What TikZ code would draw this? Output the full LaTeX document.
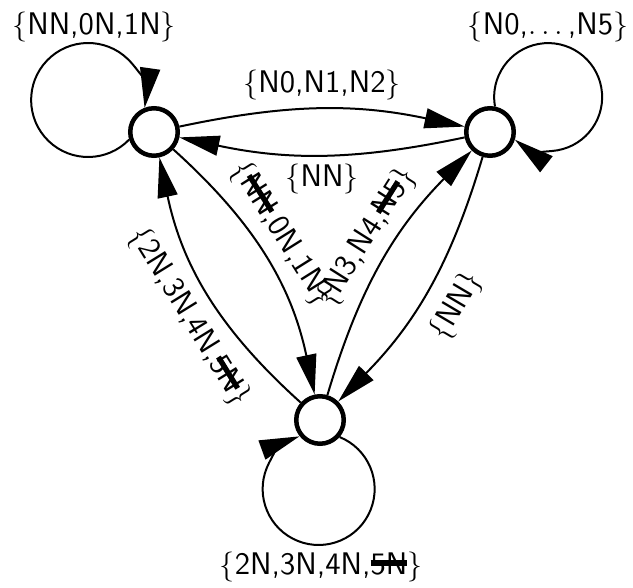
\documentclass[tikz,border=0pt]{standalone}
\usepackage{amsmath}
\usepackage{tikz}
\usetikzlibrary{arrows.meta}
\newsavebox\strikebox
\newcommand{\struck}[1]{\sbox\strikebox{#1}\rlap{\rule[0.28em]{\wd\strikebox}{0.17em}}\usebox\strikebox}
\tikzset{statenode/.style={draw,circle,line width=1.8pt,minimum size=19pt,inner sep=0},
    trans/.style={->,line width=0.8pt},
    translabel/.style={font=\sffamily\fontsize{12.5}{14}\selectfont},
    sidelabel/.style={auto,sloped,inner sep=5pt}}

\begin{document}
\begin{tikzpicture}[x=0.4pt,y=0.4pt,>={Triangle[length=16pt,width=8pt]},every node/.style={translabel}]

\useasboundingbox (0,0) rectangle (633,587);

\node (A) at (154,455) [statenode] {};
\node (B) at (490,455) [statenode] {};
\node (C) at (320,167) [statenode] {};

% top pair
\draw [trans] (A) to[bend left=12] node[auto] {$\{$N0,N1,N2$\}$} (B);
\draw [trans] (B) to[bend left=12] node[auto] {$\{$NN$\}$} (A);

% left pair
\draw [trans] (A) to[bend left=18] node[sidelabel,pos=0.45,inner sep=4pt] {$\{$\struck{NN},0N,1N$\}$} (C);
\draw [trans] (C) to[bend left=18] node[sidelabel,swap,pos=0.46] {$\{$2N,3N,4N,\struck{5N}$\}$} (A);

% right pair
\draw [trans] (C) to[bend left=14] node[sidelabel,pos=0.55,inner sep=4pt] {$\{$N3,N4,\struck{N5}$\}$} (B);
\draw [trans] (B) to[bend left=14] node[sidelabel,swap,pos=0.5,inner sep=7pt] {$\{$NN$\}$} (C);

% self loops
\draw [trans] (A.197) arc[start angle=-44,end angle=-368,radius=22.8pt];
\draw [trans] (B.79) arc[start angle=190,end angle=-128,radius=21.6pt];
\draw [trans] (C.-41) arc[start angle=68,end angle=-250,radius=22.4pt];

\node (loopA) at (94,560) {$\{$NN,0N,1N$\}$};
\node (loopB) at (548,560) {$\{$N0,$\ldots$\,,N5$\}$};
\node (loopC) at (321,20) {$\{$2N,3N,4N,\struck{5N}$\}$};

\end{tikzpicture}
\end{document}
